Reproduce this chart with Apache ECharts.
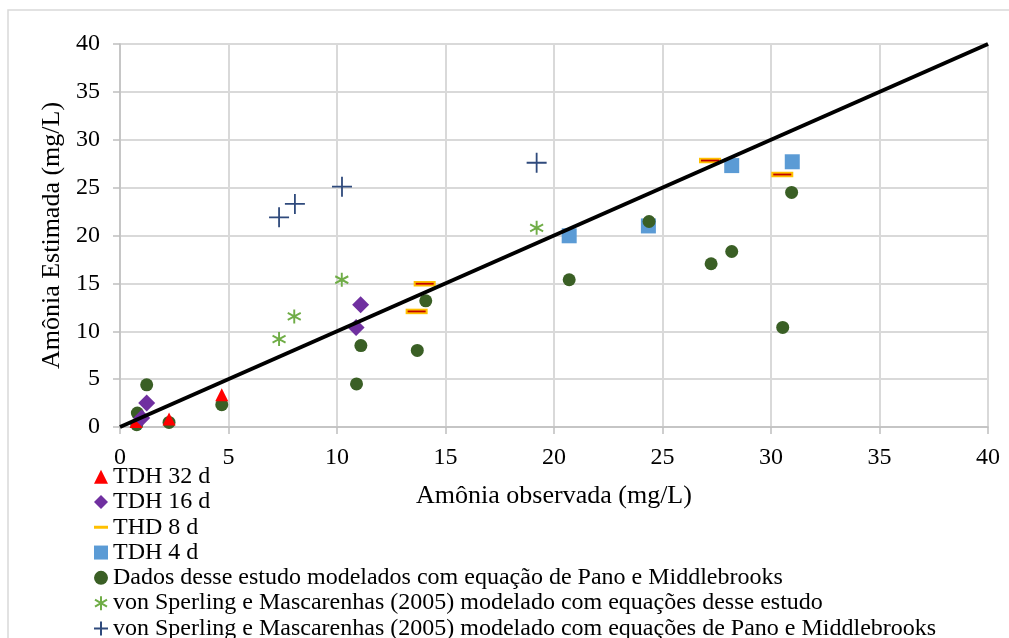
<!DOCTYPE html>
<html>
<head>
<meta charset="utf-8">
<script src="https://cdn.jsdelivr.net/npm/echarts@6/dist/echarts.min.js"></script>
<style>
  html, body { margin: 0; padding: 0; background: #fff; }
  #chart { width: 1009px; height: 638px; }
</style>
</head>
<body>
<div id="chart"></div>
<script>
// valores [observada, estimada]
const tdh32 = [[0.74, 0.58], [2.26, 0.83], [4.69, 3.37]]
const tdh16 = [[1.0, 0.94], [1.23, 2.5], [10.88, 10.4], [11.09, 12.77]]
const thd8 = [[13.67, 12.07], [14.04, 14.96], [27.19, 27.83], [30.52, 26.37]]
const tdh4 = [[20.7, 19.97], [24.35, 21.0], [28.19, 27.3], [30.98, 27.7]]
const dadosPano = [
  [0.77, 0.24], [0.8, 1.45], [1.23, 4.4], [2.26, 0.48], [4.69, 2.33],
  [10.9, 4.5], [11.1, 8.5], [13.7, 8.0], [14.09, 13.18], [20.7, 15.38],
  [24.38, 21.46], [27.24, 17.05], [28.19, 18.33], [30.54, 10.4], [30.95, 24.5]
]
const vsEsteEstudo = [[7.33, 9.18], [8.03, 11.55], [10.22, 15.38], [19.2, 20.8]]
const vsPano = [[7.33, 21.9], [8.06, 23.3], [10.23, 25.1], [19.2, 27.6]]
const linha11 = [[0, 0], [40, 40]]
const ticks = [0, 5, 10, 15, 20, 25, 30, 35, 40]

const names = [
  'TDH 32 d',
  'TDH 16 d',
  'THD 8 d',
  'TDH 4 d',
  'Dados desse estudo modelados com equação de Pano e Middlebrooks',
  'von Sperling e Mascarenhas (2005) modelado com equações desse estudo',
  'von Sperling e Mascarenhas (2005) modelado com equações de Pano e Middlebrooks'
]

const font = "'Liberation Serif', 'Times New Roman', serif"
const plusPath = 'path://M0,-10L0,10M-10,0L10,0'
const asterPath = 'path://M0,-7L0,7M-6,-3.5L6,3.5M-6,3.5L6,-3.5'

const chart = echarts.init(document.getElementById('chart'))

const axisCommon = {
  type: 'value',
  min: ticks[0],
  max: ticks[ticks.length - 1],
  interval: 5,
  axisLine: { show: true, lineStyle: { color: '#bfbfbf', width: 1.5 } },
  axisTick: { show: true, length: 7, lineStyle: { color: '#bfbfbf', width: 1.5 } },
  splitLine: { show: true, lineStyle: { color: '#d9d9d9', width: 2 } },
  axisLabel: { color: '#000', fontSize: 24, fontFamily: font },
  nameLocation: 'middle',
  nameTextStyle: { color: '#000', fontSize: 26, fontFamily: font }
}

chart.setOption({
  animation: false,
  backgroundColor: '#fff',
  graphic: [{
    type: 'rect',
    shape: { x: 8, y: 10, width: 1100, height: 700 },
    style: { fill: 'none', stroke: '#d9d9d9', lineWidth: 1.5 },
    silent: true
  }],
  grid: { left: 120, right: 21, top: 44, bottom: 211 },
  xAxis: Object.assign({}, axisCommon, {
    name: 'Amônia observada (mg/L)',
    nameGap: 56,
    axisLabel: Object.assign({}, axisCommon.axisLabel, { margin: 19 })
  }),
  yAxis: Object.assign({}, axisCommon, {
    name: 'Amônia Estimada (mg/L)',
    nameGap: 47,
    axisLabel: Object.assign({}, axisCommon.axisLabel, { margin: 20 })
  }),
  legend: {
    orient: 'vertical',
    left: 93,
    top: 464,
    height: 220,
    padding: 0,
    itemGap: 0,
    itemWidth: 14,
    itemHeight: 14,
    textStyle: { color: '#000', fontSize: 24, fontFamily: font, lineHeight: 25.3 },
    data: [
      { name: names[0] },
      { name: names[1] },
      { name: names[2], icon: 'path://M0,0h14v3h-14z', itemStyle: { color: '#ffc000' } },
      { name: names[3] },
      { name: names[4] },
      { name: names[5] },
      { name: names[6] }
    ]
  },
  series: [
    {
      type: 'line',
      data: linha11,
      symbol: 'none',
      lineStyle: { color: '#000', width: 4 },
      silent: true
    },
    {
      name: names[3],
      type: 'scatter',
      data: tdh4,
      symbol: 'rect',
      symbolSize: 15,
      itemStyle: { color: '#5b9bd5', opacity: 1 }
    },
    {
      name: names[4],
      type: 'scatter',
      data: dadosPano,
      symbol: 'circle',
      symbolSize: 13,
      itemStyle: { color: '#3a5f25', opacity: 1 }
    },
    {
      name: names[2],
      type: 'scatter',
      data: thd8,
      symbol: 'rect',
      symbolSize: [22, 5.5],
      itemStyle: { color: '#ffc000', opacity: 1 }
    },
    {
      // traço vermelho no meio do marcador THD 8 d
      name: 'THD 8 d centro',
      type: 'scatter',
      data: thd8,
      symbol: 'rect',
      symbolSize: [18, 1.8],
      itemStyle: { color: '#c00000', opacity: 1 }
    },
    {
      name: names[0],
      type: 'scatter',
      data: tdh32,
      symbol: 'triangle',
      symbolSize: [13, 13],
      itemStyle: { color: '#ff0000', opacity: 1 }
    },
    {
      name: names[1],
      type: 'scatter',
      data: tdh16,
      symbol: 'diamond',
      symbolSize: 17,
      itemStyle: { color: '#7030a0', opacity: 1 }
    },
    {
      name: names[5],
      type: 'scatter',
      data: vsEsteEstudo,
      symbol: asterPath,
      symbolSize: [13, 14],
      itemStyle: { color: '#70ad47', borderColor: '#70ad47', borderWidth: 2, opacity: 1 }
    },
    {
      name: names[6],
      type: 'scatter',
      data: vsPano,
      symbol: plusPath,
      symbolSize: 20,
      itemStyle: { color: '#203864', borderColor: '#2f4a7c', borderWidth: 1.8, opacity: 1 }
    }
  ]
})
</script>
</body>
</html>
